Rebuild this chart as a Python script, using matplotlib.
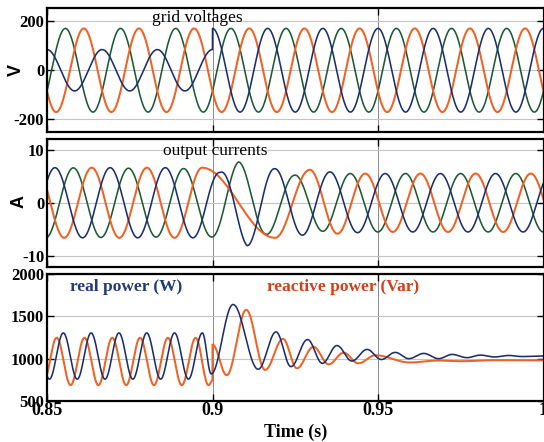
import numpy as np
import matplotlib
matplotlib.use("Agg")
import matplotlib.pyplot as plt

plt.rcParams["axes.unicode_minus"] = False

# ---------------- data ----------------
# time axis
t_start, t_end, t_event = 0.85, 1.0, 0.9
grid_freq = 60.0                        # Hz

# grid voltages: [blue, green, orange]
v_amp_before = [84, 170, 170]           # V peak, before 0.9 s (sag on blue phase)
v_amp_after = [170, 170, 170]           # V peak, after 0.9 s
v_phase_deg = [0, 120, 240]             # peak delay (deg) from 0.85 s

# output currents: amplitude envelope knots (time s, peak A) per phase
i_blue_knots_t = [0.85, 0.898, 0.9023, 0.9105, 0.9189, 0.9356, 0.95, 1.0]
i_blue_knots_a = [6.6, 6.6, 5.7, 8.1, 6.4, 5.8, 5.5, 5.5]
i_green_knots_t = [0.85, 0.8993, 0.9078, 0.9159, 0.9244, 0.94, 1.0]
i_green_knots_a = [6.6, 6.4, 7.7, 6.0, 5.2, 5.5, 5.5]
i_orange_knots_t = [0.85, 0.8969, 0.919, 0.9296, 0.945, 1.0]
i_orange_knots_a = [6.6, 6.6, 6.6, 6.2, 5.5, 5.5]
# current phase (deg) knots per phase
i_blue_phase_t = [0.85, 0.9, 0.93, 1.0]
i_blue_phase_d = [52, 52, 47, 47]
i_green_phase_t = [0.85, 0.9, 0.93, 1.0]
i_green_phase_d = [172, 172, 179, 179]
i_orange_phase_t = [0.85, 0.8969, 0.919, 0.9296, 1.0]
i_orange_phase_d = [292, 292, 590, 637, 637]

# power, steady state before the event: mean, amplitude, period (s), peak delay (s)
p_real_steady = [1031, 273, 0.0084, 0.00493]
p_reac_steady = [967, 280, 0.0084, 0.00293]
# power transient: successive extrema (time s, value)
p_real_ext_t = [0.89693, 0.8996, 0.9062, 0.9138, 0.9192, 0.9237, 0.9287, 0.9332,
                0.9376, 0.9421, 0.9467, 0.951, 0.9552, 0.9593, 0.9638, 0.9683,
                0.9724, 0.9769, 0.9809, 0.9852, 0.9894, 0.9936, 1.0]
p_real_ext_v = [1304, 820, 1640, 875, 1316, 906, 1226, 945,
                1155, 972, 1109, 990, 1074, 1000, 1062, 1000,
                1050, 1012, 1042, 1020, 1038, 1025, 1032]
p_reac_ext_t = [0.89493, 0.8988, 0.89999, 0.9, 0.9043, 0.9102, 0.9159, 0.9213,
                0.9255, 0.9305, 0.9351, 0.9396, 0.9441, 0.9492, 0.9596, 0.968,
                0.975, 0.985, 1.0]
p_reac_ext_v = [1246, 687, 740, 1167, 805, 1577, 867, 1234,
                886, 1140, 933, 1070, 945, 1040, 955, 978,
                970, 982, 980]

# axis ticks / labels
x_ticks = [0.85, 0.9, 0.95, 1.0]
x_tick_labels = ["0.85", "0.9", "0.95", "1"]
v_ticks = [-200, 0, 200]
i_ticks = [-10, 0, 10]
p_ticks = [500, 1000, 1500, 2000]

# ---------------- styles ----------------
C_BLUE = "#1b2f6e"
C_GREEN = "#1d5a33"
C_ORANGE = "#ef6224"
C_REAL_TXT = "#1f3b78"
C_REAC_TXT = "#d0401a"
SERIF = "Liberation Serif"
SANS = "Liberation Sans"

t = np.linspace(t_start, t_end, 12001)
tp = t - t_start
w = 2 * np.pi * grid_freq


def half_cos(tt, kt, kv):
    kt = np.asarray(kt); kv = np.asarray(kv)
    idx = np.clip(np.searchsorted(kt, tt, side="right") - 1, 0, len(kt) - 2)
    s = (tt - kt[idx]) / (kt[idx + 1] - kt[idx])
    s = np.clip(s, 0, 1)
    return kv[idx] + (kv[idx + 1] - kv[idx]) * (1 - np.cos(np.pi * s)) / 2


# voltages
volt = []
for k in range(3):
    amp = np.where(t < t_event, v_amp_before[k], v_amp_after[k])
    volt.append(amp * np.cos(w * tp - np.deg2rad(v_phase_deg[k])))

# currents
cur = []
for kt, ka, pt, pd in [(i_blue_knots_t, i_blue_knots_a, i_blue_phase_t, i_blue_phase_d),
                       (i_green_knots_t, i_green_knots_a, i_green_phase_t, i_green_phase_d),
                       (i_orange_knots_t, i_orange_knots_a, i_orange_phase_t, i_orange_phase_d)]:
    amp = np.interp(t, kt, ka)
    ph = np.interp(t, pt, pd)
    cur.append(amp * np.cos(w * tp - np.deg2rad(ph)))


def power(steady, ext_t, ext_v):
    m, a, per, d = steady
    ss = m + a * np.cos(2 * np.pi * (tp - d) / per)
    tr = half_cos(t, ext_t, ext_v)
    return np.where(t < ext_t[0], ss, tr)


p_real = power(p_real_steady, p_real_ext_t, p_real_ext_v)
p_reac = power(p_reac_steady, p_reac_ext_t, p_reac_ext_v)

# ---------------- figure ----------------
fig = plt.figure(figsize=(5.44, 4.42), dpi=100)
W, H = 544.0, 442.0
left, right = 47 / W, 543.5 / W
ax1 = fig.add_axes([left, 1 - 132 / H, right - left, 124 / H])
ax2 = fig.add_axes([left, 1 - 266.5 / H, right - left, 127.5 / H])
ax3 = fig.add_axes([left, 1 - 401 / H, right - left, 127 / H])

lw = 1.15
ax1.plot(t, volt[1], color=C_GREEN, lw=lw)
ax1.plot(t, volt[2], color=C_ORANGE, lw=lw + 0.3)
ax1.plot(t, volt[0], color=C_BLUE, lw=lw)

ax2.plot(t, cur[1], color=C_GREEN, lw=lw)
ax2.plot(t, cur[2], color=C_ORANGE, lw=lw + 0.3)
ax2.plot(t, cur[0], color=C_BLUE, lw=lw)

ax3.plot(t, p_reac, color=C_ORANGE, lw=lw + 0.3)
ax3.plot(t, p_real, color=C_BLUE, lw=lw)

for ax, yt, yl in [(ax1, v_ticks, (-251, 253)), (ax2, i_ticks, (-12, 12)),
                   (ax3, p_ticks, (500, 2000))]:
    ax.set_xlim(t_start, t_end)
    ax.set_ylim(*yl)
    ax.set_yticks(yt)
    ax.set_xticks(x_ticks)
    ax.grid(True, axis="y", color="#c4c4c4", lw=0.8)
    ax.grid(True, axis="x", color="#8a8a8a", lw=0.7)
    ax.set_axisbelow(True)
    ax.tick_params(direction="in", length=5, width=1.0, top=True, right=True,
                   labelsize=12, pad=2)
    for lab in ax.get_yticklabels():
        lab.set_fontfamily(SERIF)
        lab.set_fontweight("bold")
    for sp in ax.spines.values():
        sp.set_linewidth(1.6)

ax1.set_xticklabels([])
ax2.set_xticklabels([])
ax3.set_xticklabels(x_tick_labels)
for lab in ax3.get_xticklabels():
    lab.set_fontfamily(SERIF)
    lab.set_fontweight("bold")
    lab.set_fontsize(13)
ax3.tick_params(axis="x", pad=1)

fig.text(16 / W, 1 - 70 / H, "V", rotation=90, ha="center", va="center",
         fontfamily=SANS, fontweight="bold", fontsize=13)
fig.text(19 / W, 1 - 202 / H, "A", rotation=90, ha="center", va="center",
         fontfamily=SANS, fontweight="bold", fontsize=13)
ax3.set_xlabel("Time (s)", fontfamily=SERIF, fontweight="bold", fontsize=13, labelpad=3)

ax1.text(0.8954, 212, "grid voltages", ha="center", va="center", fontfamily=SERIF,
         fontsize=12.5, color="black")
ax2.text(0.9008, 9.7, "output currents", ha="center", va="center", fontfamily=SERIF,
         fontsize=12.5, color="black")
ax3.text(0.874, 1850, "real power (W)", ha="center", va="center", fontfamily=SERIF,
         fontweight="bold", fontsize=12.5, color=C_REAL_TXT)
ax3.text(0.9395, 1850, "reactive power (Var)", ha="center", va="center",
         fontfamily=SERIF, fontweight="bold", fontsize=12.5, color=C_REAC_TXT)

fig.savefig("out.png", dpi=100)
